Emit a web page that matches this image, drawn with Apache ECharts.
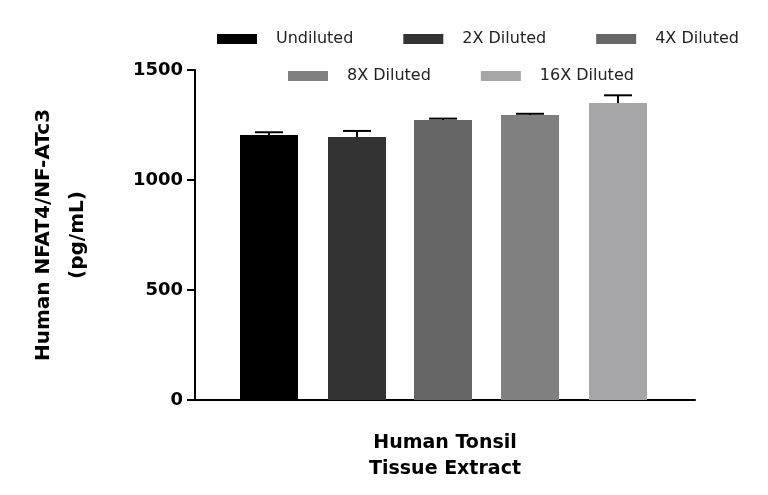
<!DOCTYPE html>
<html><head><meta charset="utf-8">
<script src="https://cdn.jsdelivr.net/npm/echarts@6/dist/echarts.min.js"></script>
<style>html,body{margin:0;padding:0;background:#fff}#c{width:768px;height:495px}</style>
</head><body><div id="c"></div>
<script>
// data
var names = ['Undiluted', '2X Diluted', '4X Diluted', '8X Diluted', '16X Diluted'];
var values = [1205, 1195, 1273, 1295, 1350];
var errors = [12, 28, 6, 6, 35];
var positions = [74, 162, 248, 335, 423]; // bar centre along hidden x scale
var colors = ['#000000', '#333333', '#666666', '#808080', '#a6a6a8'];
var yTicks = [0, 500, 1000, 1500];

var chart = echarts.init(document.getElementById('c'));
var font = 'DejaVu Sans';

var series = names.map(function (n, i) {
  return {
    name: n, type: 'bar', stack: 'all', barWidth: 58,
    itemStyle: {color: colors[i]},
    data: [[positions[i], values[i]]]
  };
});
series.push({
  type: 'custom', z: 1,
  renderItem: function (params, api) {
    var x = api.value(0), v = api.value(1), e = api.value(2);
    var top = api.coord([x, v + e]), base = api.coord([x, v]);
    var style = {stroke: '#000', lineWidth: 2};
    return {type: 'group', children: [
      {type: 'line', shape: {x1: top[0], y1: top[1], x2: base[0], y2: base[1]}, style: style},
      {type: 'line', shape: {x1: top[0] - 14, y1: top[1], x2: top[0] + 14, y2: top[1]}, style: style}
    ]};
  },
  data: positions.map(function (p, i) { return [p, values[i], errors[i]]; })
});

var legendText = {fontFamily: font, fontSize: 16, color: '#222', padding: [0, 0, 0, 14]};
chart.setOption({
  animation: false,
  legend: [
    {data: names.slice(0, 3), top: 26, left: 212, itemWidth: 40, itemHeight: 10, itemGap: 50,
     textStyle: legendText, icon: 'rect'},
    {data: names.slice(3), top: 63, left: 283, itemWidth: 40, itemHeight: 10, itemGap: 50,
     textStyle: legendText, icon: 'rect'}
  ],
  grid: {left: 195, right: 73, top: 70, bottom: 95},
  xAxis: {
    type: 'value', min: 0, max: 500,
    axisLabel: {show: false}, axisTick: {show: false}, splitLine: {show: false},
    axisLine: {show: true, onZero: false, lineStyle: {color: '#000', width: 2}},
    name: 'Human Tonsil\nTissue Extract', nameLocation: 'middle', nameGap: 30,
    nameTextStyle: {fontFamily: font, fontSize: 19, fontWeight: 'bold', color: '#000', lineHeight: 26}
  },
  yAxis: {
    type: 'value', min: 0, max: 1500, interval: 500,
    splitLine: {show: false},
    axisLine: {show: true, lineStyle: {color: '#000', width: 2}},
    axisTick: {show: true, length: 8, lineStyle: {color: '#000', width: 2}},
    axisLabel: {fontFamily: font, fontSize: 18, fontWeight: 'bold', color: '#000', margin: 12,
      formatter: function (v) { return yTicks.indexOf(v) >= 0 ? String(v) : ''; }},
    name: 'Human NFAT4/NF-ATc3\n(pg/mL)', nameLocation: 'middle', nameGap: 100, nameRotate: 90,
    nameTextStyle: {fontFamily: font, fontSize: 20, fontWeight: 'bold', color: '#000', lineHeight: 34}
  },
  series: series
});
</script></body></html>
